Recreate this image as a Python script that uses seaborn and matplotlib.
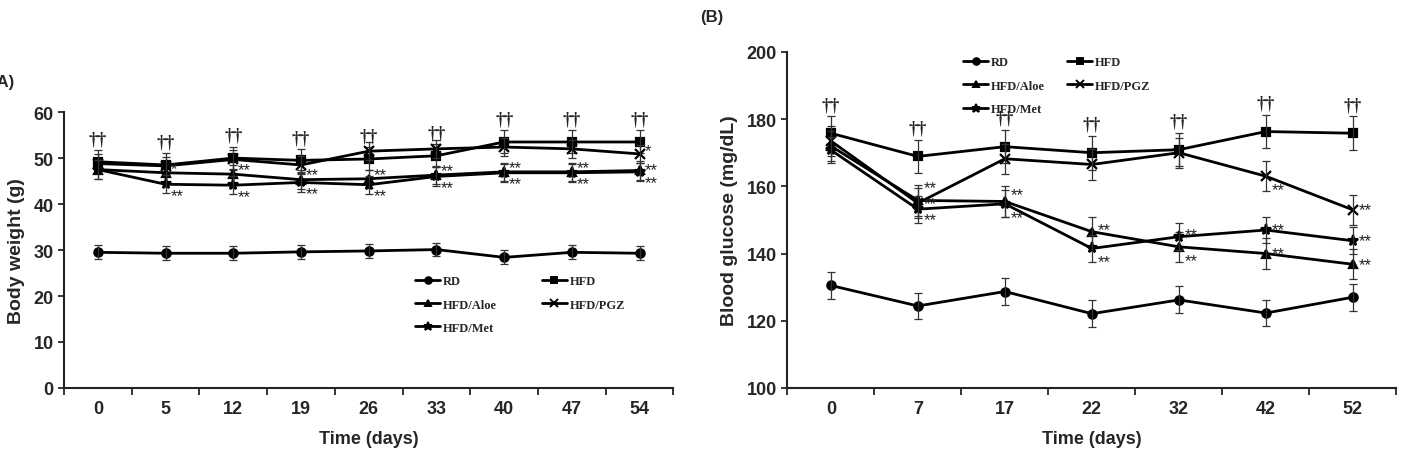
import matplotlib
matplotlib.use('Agg')
import matplotlib.pyplot as plt
import numpy as np
import pandas as pd
import seaborn as sns

# panel A: body weight
days_a = ['0', '5', '12', '19', '26', '33', '40', '47', '54']
bw_rd = [29.5, 29.3, 29.3, 29.6, 29.8, 30.1, 28.4, 29.5, 29.3]
bw_hfd = [49.2, 48.5, 50.0, 49.5, 49.8, 50.5, 53.5, 53.5, 53.5]
bw_aloe = [47.5, 46.8, 46.5, 45.3, 45.5, 46.3, 47.0, 47.0, 47.3]
bw_pgz = [48.8, 48.3, 49.7, 48.5, 51.5, 52.0, 52.4, 52.0, 50.9]
bw_met = [47.5, 44.3, 44.1, 44.7, 44.2, 46.0, 46.8, 46.8, 47.0]
bw_err = {'RD': 1.5, 'HFD': 2.5, 'HFD/Aloe': 2.0, 'HFD/PGZ': 2.0, 'HFD/Met': 2.0}
bw_stars = {
    'HFD/Aloe': ['', '*', '**', '**', '**', '**', '**', '**', '**'],
    'HFD/Met': ['', '**', '**', '**', '**', '**', '**', '**', '**'],
    'HFD/PGZ': ['', '', '', '', '', '', '', '', '*'],
}
# vertical nudge of the star labels (data units)
bw_star_dy = {
    'HFD/Aloe': [1.0, 1.0, 1.0, 1.0, 1.0, 1.0, 1.0, 1.0, 0.2],
    'HFD/Met': [-2.4] * 9,
    'HFD/PGZ': [0, 0, 0, 0, 0, 0, 0, 0, 0.8],
}

# panel B: blood glucose
days_b = ['0', '7', '17', '22', '32', '42', '52']
bg_rd = [130.5, 124.4, 128.7, 122.1, 126.2, 122.3, 127.0]
bg_hfd = [175.8, 168.9, 171.8, 170.0, 170.9, 176.3, 175.8]
bg_aloe = [172.0, 155.8, 155.5, 146.5, 142.0, 140.0, 136.8]
bg_pgz = [173.5, 155.0, 168.2, 166.5, 170.0, 163.0, 153.0]
bg_met = [170.8, 153.2, 154.8, 141.5, 145.0, 147.0, 143.8]
bg_err = {'RD': 4.0, 'HFD': 5.0, 'HFD/Aloe': 4.5, 'HFD/PGZ': 4.5, 'HFD/Met': 4.0}
bg_stars = {
    'HFD/Aloe': ['', '**', '**', '**', '**', '**', '**'],
    'HFD/Met': ['', '**', '**', '**', '**', '**', '**'],
    'HFD/PGZ': ['', '**', '', '', '', '**', '**'],
}
bg_star_dy = {
    'HFD/Aloe': [0, -0.8, 2, 0.5, -4, 0, 0],
    'HFD/Met': [0, -3.0, -4, -4, 0.5, 0, 0],
    'HFD/PGZ': [0, 4.5, 0, 0, 0, -4, 0],
}

groups = ['RD', 'HFD', 'HFD/Aloe', 'HFD/PGZ', 'HFD/Met']
markers = {'RD': 'o', 'HFD': 's', 'HFD/Aloe': '^', 'HFD/PGZ': 'x', 'HFD/Met': '*'}
msizes = {'RD': 6, 'HFD': 6, 'HFD/Aloe': 6, 'HFD/PGZ': 7, 'HFD/Met': 8}

sns.set_style('ticks')
plt.rcParams['font.family'] = ['Liberation Sans', 'DejaVu Sans']


def draw_panel(ax, days, series, errs, stars, star_dy, ylim, yticks, ylabel, span):
    pos = np.arange(len(days))
    for g, vals in zip(groups, series):
        df = pd.DataFrame({'pos': pos, 'val': vals})
        sns.lineplot(data=df, x='pos', y='val', color='black', linewidth=2, ax=ax,
                     marker=markers[g], markersize=msizes[g], markeredgewidth=1.6,
                     markeredgecolor='black', markerfacecolor='black')
        ax.errorbar(pos, vals, yerr=errs[g], fmt='none', ecolor='#333333', elinewidth=0.9,
                    capsize=3, capthick=0.9)
    hfd = series[1]
    for i, v in enumerate(hfd):
        ax.text(i, v + errs['HFD'] + span * 0.01, '\u2020\u2020', ha='center', va='bottom',
                fontsize=13, fontweight='bold', family=['Liberation Serif', 'DejaVu Serif'])
    for g, labels in stars.items():
        vals = series[groups.index(g)]
        for i, s in enumerate(labels):
            if s:
                ax.text(i + 0.07, vals[i] + star_dy[g][i], s, ha='left', va='center',
                        fontsize=12, color='#222222')
    ax.set_xlim(-0.5, len(days) - 0.5)
    ax.set_ylim(*ylim)
    ax.set_yticks(yticks)
    ax.set_xticks(pos)
    ax.set_xticklabels(days)
    ax.set_xticks(np.arange(len(days) + 1) - 0.5, minor=True)
    ax.tick_params(axis='x', which='major', length=0, pad=9, labelsize=13)
    ax.tick_params(axis='x', which='minor', length=5, width=1.3, direction='out')
    ax.tick_params(axis='y', length=4, width=1.3, direction='out', labelsize=13)
    for lab in ax.get_xticklabels() + ax.get_yticklabels():
        lab.set_fontweight('bold')
    ax.set_xlabel('Time (days)', fontsize=13, fontweight='bold', labelpad=9)
    ax.set_ylabel(ylabel, fontsize=14, fontweight='bold', labelpad=6)
    sns.despine(ax=ax)
    for sp in ax.spines.values():
        sp.set_linewidth(1.5)
        sp.set_color('#222222')


def add_legend(ax, anchor, colspace):
    handles = []
    for g in groups:
        h, = ax.plot([], [], color='black', linewidth=2, marker=markers[g],
                     markersize=msizes[g] * 0.8, markeredgewidth=1.4, label=g)
        handles.append(h)
    order = ['RD', 'HFD/Aloe', 'HFD/Met', 'HFD', 'HFD/PGZ']
    hs = [handles[groups.index(g)] for g in order]
    leg = ax.legend(hs, order, ncol=2, frameon=False, loc='upper left',
                    bbox_to_anchor=anchor, bbox_transform=ax.figure.transFigure,
                    prop={'family': 'Liberation Serif', 'weight': 'bold', 'size': 9},
                    handlelength=2.0, handletextpad=0.2, labelspacing=0.9,
                    columnspacing=colspace, borderaxespad=0)
    return leg


fig = plt.figure(figsize=(14.01, 4.56), dpi=100)
ax_a = fig.add_axes([0.0457, 0.147, 0.435, 0.605])
ax_b = fig.add_axes([0.562, 0.147, 0.4347, 0.737])

draw_panel(ax_a, days_a, [bw_rd, bw_hfd, bw_aloe, bw_pgz, bw_met], bw_err, bw_stars,
           bw_star_dy, (0, 60), np.arange(0, 61, 10), 'Body weight (g)', 60)
draw_panel(ax_b, days_b, [bg_rd, bg_hfd, bg_aloe, bg_pgz, bg_met], bg_err, bg_stars,
           bg_star_dy, (100, 200), np.arange(100, 201, 20), 'Blood glucose (mg/dL)', 100)

add_legend(ax_a, (0.293, 0.405), 3.6)
add_legend(ax_b, (0.684, 0.885), 1.8)

fig.text(-0.006, 0.82, '(A)', fontsize=12, fontweight='bold', ha='left', va='center')
fig.text(0.4995, 0.962, '(B)', fontsize=12, fontweight='bold', ha='left', va='center')

fig.savefig('out.png', dpi=100)
